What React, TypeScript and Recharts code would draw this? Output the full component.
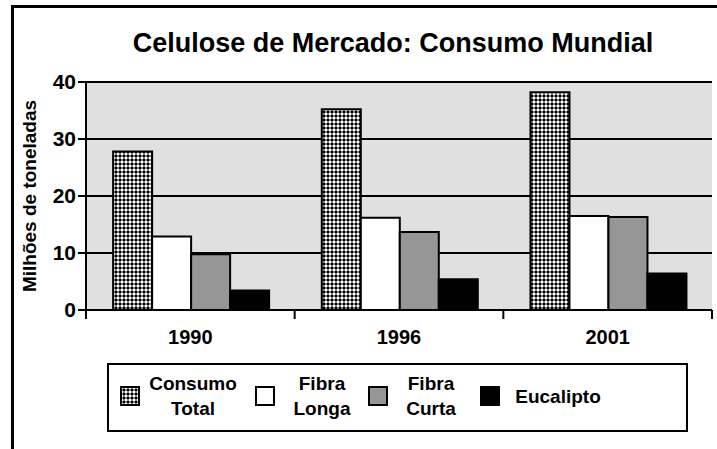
import { BarChart, Bar, XAxis, YAxis, CartesianGrid } from 'recharts';

const years = ['1990', '1996', '2001'];
const consumoTotal = [27.8, 35.2, 38.2];
const fibraLonga = [12.9, 16.2, 16.5];
const fibraCurta = [9.8, 13.7, 16.3];
const eucalipto = [3.4, 5.4, 6.4];
const yTicks = [0, 10, 20, 30, 40];

const FONT = '"Liberation Sans", Arial, Helvetica, sans-serif';

const series = [
  { key: 'total', label: ['Consumo', 'Total'], fill: 'url(#dots)' },
  { key: 'longa', label: ['Fibra', 'Longa'], fill: '#ffffff' },
  { key: 'curta', label: ['Fibra', 'Curta'], fill: '#969696' },
  { key: 'euc', label: ['Eucalipto'], fill: '#000000' },
];

// legend layout: swatch left edge and text centre, page px
const legendPos = [
  { sw: 120, tx: 193 },
  { sw: 255, tx: 322 },
  { sw: 368, tx: 431 },
  { sw: 480, tx: 558 },
];

const data = years.map((year, i) => ({
  year,
  total: consumoTotal[i],
  longa: fibraLonga[i],
  curta: fibraCurta[i],
  euc: eucalipto[i],
}));

const DotsPattern = ({ id }: { id: string }) => (
  <pattern id={id} width="4" height="4" patternUnits="userSpaceOnUse">
    <rect width="4" height="4" fill="#000" />
    <rect x="1" y="0.5" width="2" height="3" fill="#fff" />
    <rect x="0.5" y="1" width="3" height="2" fill="#fff" />
  </pattern>
);

const YearTick = (props: any) => {
  const { x, y, payload, index, visibleTicksCount } = props;
  const half = payload.offset || 0;
  const axisY = y - 12;
  return (
    <g>
      <line x1={x - half} x2={x - half} y1={axisY} y2={axisY + 9} stroke="#000" strokeWidth={2} />
      {index === visibleTicksCount - 1 && (
        <line x1={x + half} x2={x + half} y1={axisY} y2={axisY + 9} stroke="#000" strokeWidth={2} />
      )}
      <text x={x} y={axisY + 34} textAnchor="middle" fontFamily={FONT} fontWeight="bold" fontSize={20} fill="#000">
        {payload.value}
      </text>
    </g>
  );
};

export default function App() {
  return (
    <div style={{ position: 'absolute', left: 0, top: 0, width: 717, height: 449, overflow: 'hidden', background: '#fff', fontFamily: FONT }}>
      <div
        style={{
          position: 'absolute',
          left: 11,
          top: 5,
          width: 706,
          height: 444,
          boxSizing: 'border-box',
          borderLeft: '3px solid #000',
          borderTop: '3px solid #000',
        }}
      />
      <div
        style={{
          position: 'absolute',
          left: 80,
          width: 626,
          top: 28,
          textAlign: 'center',
          fontWeight: 'bold',
          fontSize: 27,
          lineHeight: '30px',
        }}
      >
        Celulose de Mercado: Consumo Mundial
      </div>
      <div style={{ position: 'absolute', left: 0, top: 0 }}>
        <BarChart
          width={717}
          height={449}
          data={data}
          margin={{ top: 82, right: 5, bottom: 99, left: 26 }}
          barCategoryGap="13%"
          barGap={0}
        >
          <defs>
            <DotsPattern id="dots" />
          </defs>
          <CartesianGrid vertical={false} stroke="#000" strokeWidth={2} fill="#e0e0e0" fillOpacity={1} />
          <XAxis
            dataKey="year"
            height={40}
            axisLine={{ stroke: '#000', strokeWidth: 2 }}
            tickLine={false}
            tickSize={8}
            tickMargin={4}
            tick={<YearTick />}
            interval={0}
          />
          <YAxis
            width={60}
            domain={[0, 40]}
            ticks={yTicks}
            interval={0}
            axisLine={{ stroke: '#000', strokeWidth: 2 }}
            tickLine={{ stroke: '#000', strokeWidth: 2 }}
            tickSize={8}
            tickMargin={2}
            tick={{ fill: '#000', fontFamily: FONT, fontWeight: 'bold', fontSize: 21 }}
            label={{
              value: 'Milhões de toneladas',
              angle: -90,
              position: 'insideLeft',
              offset: 3,
              style: { textAnchor: 'middle', fill: '#000', fontFamily: FONT, fontWeight: 'bold', fontSize: 19 },
            }}
          />
          <YAxis
            yAxisId="right"
            orientation="right"
            width={0}
            domain={[0, 40]}
            tick={false}
            tickLine={false}
            axisLine={{ stroke: '#000', strokeWidth: 2 }}
          />
          {series.map((s) => (
            <Bar key={s.key} dataKey={s.key} fill={s.fill} stroke="#000" strokeWidth={2} isAnimationActive={false} />
          ))}
        </BarChart>
      </div>
      <div
        style={{
          position: 'absolute',
          left: 107,
          top: 363,
          width: 581,
          height: 69,
          boxSizing: 'border-box',
          border: '2px solid #000',
        }}
      />
      {series.map((s, i) => (
        <div key={s.key}>
          <svg width={20} height={20} style={{ position: 'absolute', left: legendPos[i].sw, top: 386 }}>
            <defs>
              <DotsPattern id={`dots-${s.key}`} />
            </defs>
            <rect
              x={1}
              y={1}
              width={18}
              height={18}
              fill={s.key === 'total' ? `url(#dots-${s.key})` : s.fill}
              stroke="#000"
              strokeWidth={2}
            />
          </svg>
          <div
            style={{
              position: 'absolute',
              left: legendPos[i].tx - 60,
              width: 120,
              top: 396 - (s.label.length * 25) / 2,
              textAlign: 'center',
              fontWeight: 'bold',
              fontSize: 19,
              lineHeight: '25px',
            }}
          >
            {s.label.map((l) => (
              <div key={l}>{l}</div>
            ))}
          </div>
        </div>
      ))}
    </div>
  );
}
